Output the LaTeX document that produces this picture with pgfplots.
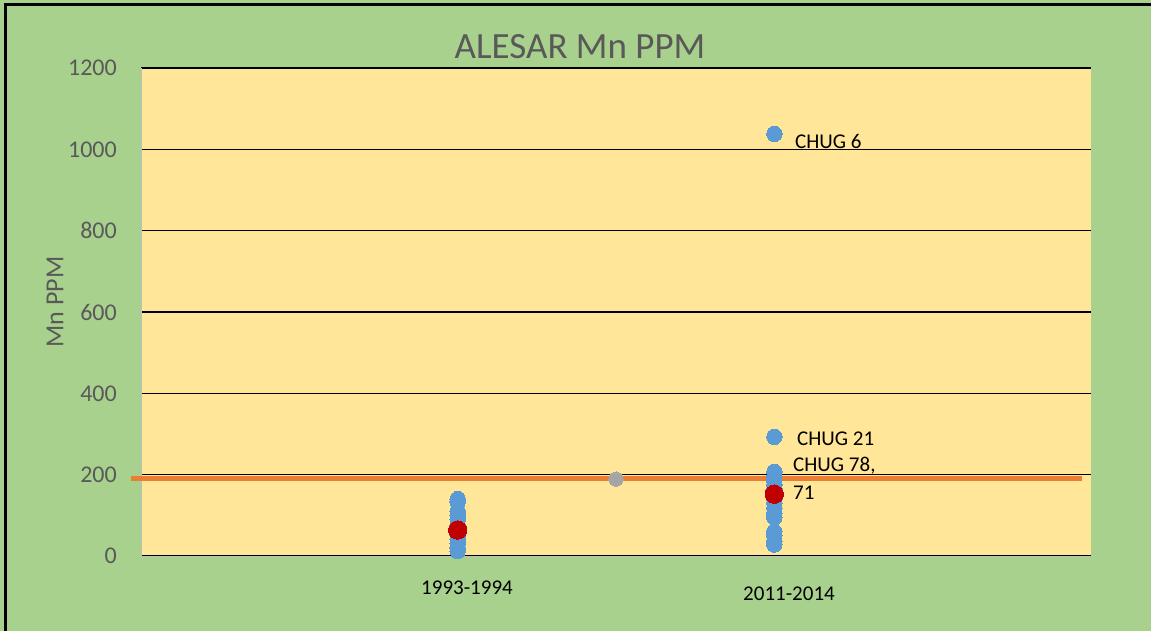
\documentclass[border=0pt]{standalone}
\usepackage{pgfplots}
\pgfplotsset{compat=1.18}
\usepackage{fontspec}
\setmainfont{Carlito}
\definecolor{bggreen}{HTML}{A9D18E}
\definecolor{plotyellow}{HTML}{FFE699}
\definecolor{ptblue}{HTML}{5B9BD5}
\definecolor{ptred}{HTML}{C00000}
\definecolor{lnorange}{HTML}{ED7D31}
\definecolor{ptgray}{HTML}{A5A5A5}
\definecolor{txtgray}{HTML}{595959}
\definecolor{axgray}{HTML}{BFBFBF}
\begin{document}
\begin{tikzpicture}[x=1pt,y=1pt]
\useasboundingbox (0,0) rectangle (1151,-631);
\fill[bggreen] (0,0) rectangle (1151,-631);
\draw[black, line width=3pt] (5.3,-631) -- (5.3,-5) -- (1151,-5);
\begin{axis}[
  at={(141pt,-556pt)}, anchor=south west,
  scale only axis, width=950pt, height=488pt,
  xmin=0, xmax=3, ymin=0, ymax=1200,
  clip=false,
  axis background/.style={fill=plotyellow},
  axis x line*=bottom, axis y line*=left,
  axis line style={draw=axgray, line width=1pt, -},
  xtick=\empty,
  ytick={0,200,400,600,800,1000,1200},
  major tick length=0pt,
  ymajorgrids,
  grid style={black, line width=1.6pt},
  /pgf/number format/assume math mode=true,
  /pgf/number format/1000 sep={},
  yticklabel style={font=\fontsize{24}{24}\selectfont, text=txtgray, inner sep=0pt, anchor=east, xshift=-24pt},
]
% 1993-1994
\addplot[ptblue, only marks, mark=*, mark size=7.7pt, mark options={draw=ptblue, fill=ptblue, line width=0pt}] coordinates {
(1,140) (1,133) (1,110) (1,100) (1,90) (1,75) (1,60) (1,50) (1,40) (1,30) (1,20) (1,12)
};
% 2011-2014
\addplot[ptblue, only marks, mark=*, mark size=7.7pt, mark options={draw=ptblue, fill=ptblue, line width=0pt}] coordinates {
(2,1038) (2,293) (2,207) (2,195) (2,185) (2,175) (2,165) (2,150) (2,140) (2,130) (2,118) (2,105) (2,95) (2,60) (2,50) (2,36) (2,28)
};
% gray point
\addplot[ptgray, only marks, mark=*, mark size=7.2pt, mark options={draw=ptgray, fill=ptgray, line width=0pt}] coordinates {(1.5,189)};
% red means
\addplot[ptred, only marks, mark=*, mark size=9.2pt, mark options={draw=ptred, fill=ptred, line width=0pt}] coordinates {(1,64) (2,152)};
% orange reference line
\addplot[lnorange, line width=4.5pt] coordinates {(-0.032,190) (2.972,190)};
\end{axis}
\node[text=txtgray, font=\fontsize{37}{37}\selectfont] at (580,-47) {ALESAR Mn PPM};
\node[text=txtgray, font=\fontsize{26}{26}\selectfont, rotate=90] at (55,-302) {Mn PPM};
\node[font=\fontsize{21}{21}\selectfont] at (467,-588) {1993-1994};
\node[font=\fontsize{21}{21}\selectfont] at (789,-594) {2011-2014};
\node[font=\fontsize{21}{21}\selectfont, anchor=west, inner sep=0pt] at (795,-141.7) {CHUG 6};
\node[font=\fontsize{21}{21}\selectfont, anchor=west, inner sep=0pt] at (797,-439) {CHUG 21};
\node[font=\fontsize{21}{21}\selectfont, anchor=west, inner sep=0pt] at (793,-466) {CHUG 78,};
\node[font=\fontsize{21}{21}\selectfont, anchor=west, inner sep=0pt] at (793,-493) {71};
\end{tikzpicture}
\end{document}
